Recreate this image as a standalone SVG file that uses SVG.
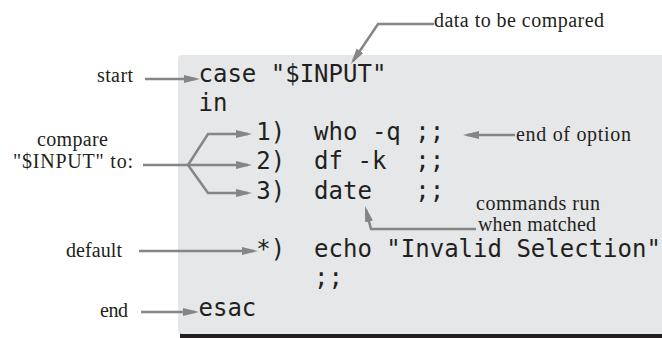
<svg xmlns="http://www.w3.org/2000/svg" width="662" height="338" viewBox="0 0 662 338">
<style>
.code{font-family:"DejaVu Sans Mono",monospace;font-size:24px;fill:#231f20}
.lbl{font-family:"Liberation Serif","Times New Roman",serif;font-size:20px;fill:#231f20}
.arr{fill:none;stroke:#858585;stroke-width:2.5;marker-end:url(#ah)}
.ln{fill:none;stroke:#858585;stroke-width:2.5}
</style>
<defs>
<marker id="ah" markerUnits="userSpaceOnUse" markerWidth="18" markerHeight="10" refX="12" refY="4" orient="auto">
<path d="M0,0 L16,4 L0,8 z" fill="#858585"/>
</marker>
</defs>
<rect width="662" height="338" fill="#ffffff"/>
<g id="panel">
<rect x="180" y="330" width="482" height="8" fill="#231f20"/>
<rect x="178" y="55" width="490" height="279" rx="4" ry="4" fill="#e6e7e8"/>
</g>
<g id="code">
<text class="code" x="198.5" y="81.5">case "$INPUT"</text>
<text class="code" x="198.5" y="110.8">in</text>
<text class="code" x="256.3" y="140">1)</text>
<text class="code" x="314.1" y="140">who -q ;;</text>
<text class="code" x="256.3" y="169.3">2)</text>
<text class="code" x="314.1" y="169.3">df -k</text>
<text class="code" x="415.2" y="169.3">;;</text>
<text class="code" x="256.3" y="198.5">3)</text>
<text class="code" x="314.1" y="198.5">date</text>
<text class="code" x="415.2" y="198.5">;;</text>
<text class="code" x="256.3" y="257">*)</text>
<text class="code" x="314.1" y="257">echo "Invalid Selection"</text>
<text class="code" x="314.1" y="286.3">;;</text>
<text class="code" x="198.5" y="315.5">esac</text>
</g>
<g id="label-data"><text class="lbl" x="434" y="27" textLength="170" lengthAdjust="spacing">data to be compared</text></g>
<g id="label-start"><text class="lbl" x="97" y="82" textLength="36" lengthAdjust="spacing">start</text></g>
<g id="label-compare">
<text class="lbl" x="37" y="146" textLength="71" lengthAdjust="spacing">compare</text>
<text class="lbl" x="13" y="168" textLength="120" lengthAdjust="spacing">"$INPUT" to:</text>
</g>
<g id="label-endopt"><text class="lbl" x="516" y="141" textLength="115" lengthAdjust="spacing">end of option</text></g>
<g id="label-commands">
<text class="lbl" x="476" y="210" textLength="124" lengthAdjust="spacing">commands run</text>
<text class="lbl" x="478" y="231" textLength="118" lengthAdjust="spacing">when matched</text>
</g>
<g id="label-default"><text class="lbl" x="66" y="257" textLength="56" lengthAdjust="spacing">default</text></g>
<g id="label-end"><text class="lbl" x="100" y="317" textLength="28" lengthAdjust="spacing">end</text></g>
<g id="connectors">
<path class="arr" d="M145,79 H196"/>
<path class="arr" d="M434,24 H378 L353.2,60.7"/>
<path class="arr" d="M515,135 H467"/>
<path class="ln" d="M143,165 H188"/>
<path class="arr" d="M188,165 L208,134 H248"/>
<path class="arr" d="M188,165 H248"/>
<path class="arr" d="M188,165 L208,193 H248"/>
<path class="arr" d="M139,251 H254"/>
<path class="arr" d="M141,312 H195"/>
<path class="arr" d="M476,229 H371 L366,209.9"/>
</g>
</svg>
